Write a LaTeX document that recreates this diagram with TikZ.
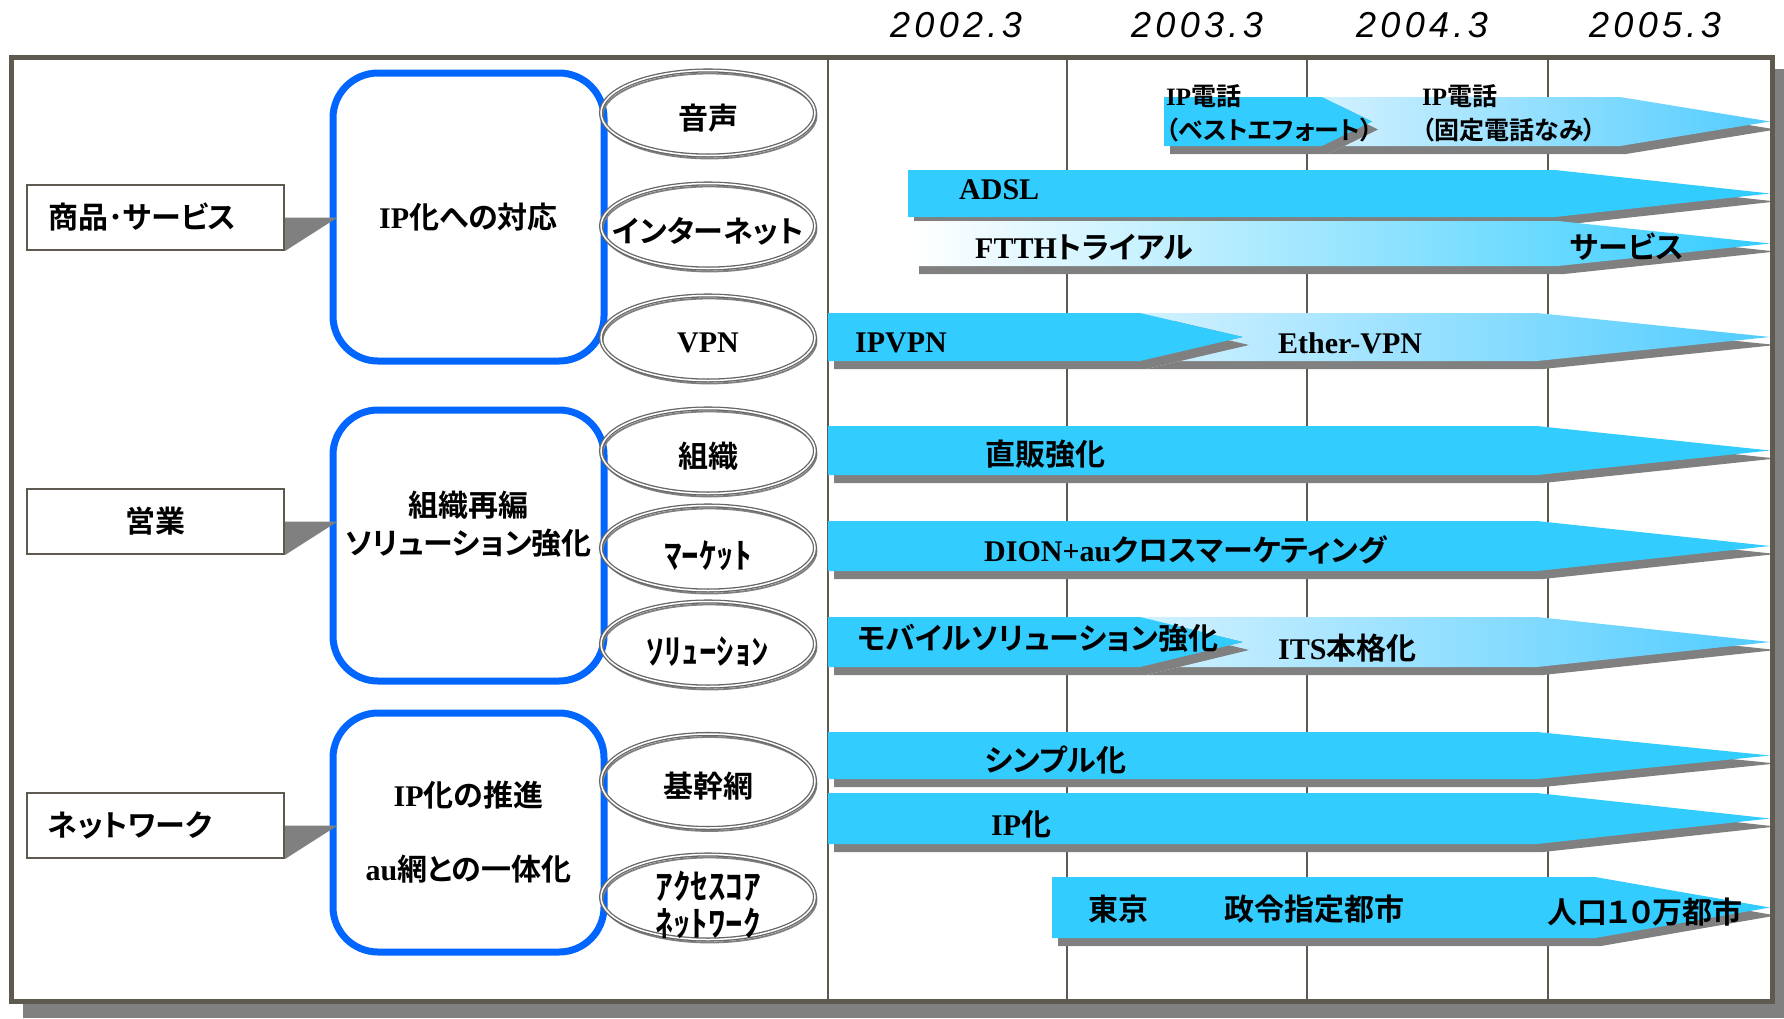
\documentclass[tikz,border=0pt]{standalone}
\usepackage{fontspec}
\setmainfont{Liberation Serif}
\newfontfamily\jp{Noto Sans CJK JP}[BoldFont={Noto Sans CJK JP Bold},RawFeature=+palt]
\newfontfamily\yr{Liberation Sans}[LetterSpace=12.0]
\usetikzlibrary{shapes.geometric,positioning}

\definecolor{frameline}{HTML}{5F5A50}
\definecolor{shadowgray}{HTML}{808080}
\definecolor{barcyan}{HTML}{33CCFF}
\definecolor{barpale}{HTML}{D2F1FF}
\definecolor{bardeep}{HTML}{50CCFF}
\definecolor{boxblue}{HTML}{0066FF}

\newcommand\band[5]{%
\fill[shadowgray,shift={(6,8)}] (#1,#2) -- (#4,#2) -- (1770,{(#2+#3)/2}) -- (#4,#3) -- (#1,#3) -- cycle;
\path[#5] (#1,#2) -- (#4,#2) -- (1770,{(#2+#3)/2}) -- (#4,#3) -- (#1,#3) -- cycle;}
\newcommand\chevron[6]{%
\fill[shadowgray,shift={(6,8)}] (#1,#2) -- (#4,#2) -- (#5,{(#2+#3)/2}) -- (#4,#3) -- (#1,#3) -- cycle;
\path[#6] (#1,#2) -- (#4,#2) -- (#5,{(#2+#3)/2}) -- (#4,#3) -- (#1,#3) -- cycle;}
\newcommand\notchband[6]{%
\fill[shadowgray,shift={(6,8)}] (#1,#2) -- (#4,#2) -- (1770,{(#2+#3)/2}) -- (#4,#3) -- (#1,#3) -- (#5,{(#2+#3)/2}) -- cycle;
\path[#6] (#1,#2) -- (#4,#2) -- (1770,{(#2+#3)/2}) -- (#4,#3) -- (#1,#3) -- (#5,{(#2+#3)/2}) -- cycle;}

\begin{document}
\begin{tikzpicture}[x=1pt, y=-1pt,
every node/.style={font=\bfseries\fontsize{30}{36}\selectfont, inner sep=0},
jtext/.style={font=\jp\bfseries\fontsize{30}{36}\selectfont},
smalltext/.style={font=\bfseries\fontsize{25}{30}\selectfont, anchor=west},
year/.style={font=\yr\itshape\mdseries\fontsize{36}{40}\selectfont},
catbox/.style={draw=frameline, line width=2, minimum width=257, minimum height=65,
  text width=215, font=\jp\bfseries\fontsize{30}{36}\selectfont},
goalbox/.style={draw=boxblue, line width=7, rounded corners=45, minimum width=271},
ringbase/.style={ellipse, minimum width=214, minimum height=85, draw=black!60,
  line width=1.3, double=white, double distance=1.5,
  preaction={draw=gray, line width=1.8, transform canvas={shift={(1.5pt,-3pt)}}}},
ring/.style={ringbase, label={[yshift=-5]center:#1}},
hring/.style={ringbase, label={[yshift=-8, align=center,
  font=\jp\bfseries\fontsize{35}{37}\selectfont]center:#1}}]

\useasboundingbox (0,0) rectangle (1784,1018);
\fill[shadowgray] (23,69) rectangle (1784,1018);
\fill[white] (11,57) rectangle (1772,1001);
\foreach \gx in {828,1067,1307,1548}
  \draw[frameline, line width=2] (\gx,57) -- (\gx,1001);

\node[year] (y02) at (956,25) {2002.3};
\node[year] (y03) at (1197,25) {2003.3};
\node[year] (y04) at (1422,25) {2004.3};
\node[year] (y05) at (1655,25) {2005.3};

\begin{scope}
\clip (11,57) rectangle (1772,1001);
\notchband{1322}{97}{146}{1620}{1372}{left color=barpale, right color=bardeep}
\chevron{1164}{97}{146}{1322}{1372}{fill=barcyan}
\band{908}{170}{217}{1555}{fill=barcyan}
\band{913}{221}{266}{1558}{left color=white, right color=barcyan}
\notchband{1140}{313}{361}{1537}{1243}{left color=barpale, right color=bardeep}
\chevron{828}{313}{361}{1140}{1243}{fill=barcyan}
\band{828}{426}{475}{1537}{fill=barcyan}
\band{828}{521}{571}{1537}{fill=barcyan}
\notchband{1140}{617}{667}{1537}{1243}{left color=barpale, right color=bardeep}
\chevron{828}{617}{667}{1140}{1243}{fill=barcyan}
\band{828}{732}{779}{1537}{fill=barcyan}
\band{828}{793}{844}{1537}{fill=barcyan}
\band{1052}{877}{938}{1595}{fill=barcyan}
\end{scope}
\draw[frameline, line width=5] (11,57) rectangle (1772,1001);

\node[catbox, align=left] (cat1) at (155.5,217.5) {商品･サービス};
\node[catbox, align=center] (cat2) at (155.5,521.5) {営業};
\node[catbox, align=left] (cat3) at (155.5,825.5) {ネットワーク};

\node[goalbox, minimum height=288] (b1) at (468.5,217) {IP{\jp 化への対応}};
\node[goalbox, minimum height=271] (b2) at (468.5,545.5) {};
\node[jtext, align=center, font=\jp\bfseries\fontsize{30}{38}\selectfont]
  (b2t) at ([yshift=21]b2.center) {組織再編\\ソリューション強化};
\node[goalbox, minimum height=239, align=center] (b3) at (468.5,832.5)
  {IP{\jp 化の推進}\\[38pt]au{\jp 網との一体化}};

\foreach \c/\b in {cat1/b1,cat2/b2,cat3/b3}
  \fill[shadowgray] (\c.east) -- ([xshift=8]\c.east -| \b.west) -- (\c.south east) -- cycle;

\node[ring={\jp 音声}] (voice) at (708,113) {};
\node[ring={\jp インターネット}] (inet) at (708,226) {};
\node[ring=VPN] (vpn) at (708,338) {};
\node[ring={\jp 組織}] (org) at (708,451) {};
\node[hring=ﾏｰｹｯﾄ] (mkt) at (708,548) {};
\node[hring=ｿﾘｭｰｼｮﾝ] (sol) at (708,644) {};
\node[ring={\jp 基幹網}, minimum height=94] (core) at (708,781) {};
\node[hring={ｱｸｾｽｺｱ\\ﾈｯﾄﾜｰｸ}] (acc) at (708,897) {};

\node[smalltext] (ipt1) at (1166,96) {IP{\jp 電話}};
\node[smalltext] (ipt1b) at (1166,130) {{\jp （ベストエフォート）}};
\node[smalltext] (ipt2) at (1422,96) {IP{\jp 電話}};
\node[smalltext] (ipt2b) at (1422,130) {{\jp （固定電話なみ）}};
\node[anchor=west] (adsl) at (959,190) {ADSL};
\node[anchor=west] (ftth) at (975,247) {FTTH{\jp トライアル}};
\node[jtext, anchor=west] (svc) at (1570,247) {サービス};
\node[anchor=west] (ipvpn) at (855,343) {IPVPN};
\node[anchor=west] (ether) at (1278,343) {Ether-VPN};
\node[jtext, anchor=west] (direct) at (985,454) {直販強化};
\node[anchor=west] (dion) at (984,550) {DION+au{\jp クロスマーケティング}};
\node[jtext, anchor=west] (mobile) at (857,638) {モバイルソリューション強化};
\node[anchor=west] (its) at (1278,648) {ITS{\jp 本格化}};
\node[jtext, anchor=west] (simple) at (985,760) {シンプル化};
\node[anchor=west] (ipnet) at (991,824) {IP{\jp 化}};
\node[jtext, anchor=west] (tokyo) at (1088,909) {東京};
\node[jtext, anchor=west] (cities) at (1224,909) {政令指定都市};
\node[jtext, anchor=west] (pop) at (1547,912) {人口１０万都市};
\end{tikzpicture}
\end{document}
